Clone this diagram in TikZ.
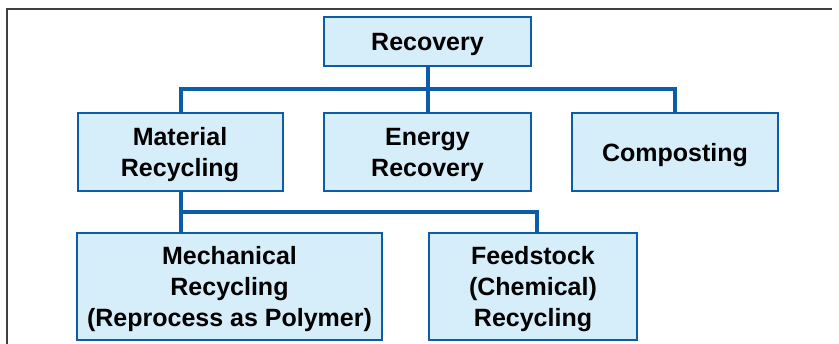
\documentclass[tikz,border=0pt]{standalone}
\usepackage{fontspec}
\setmainfont{Liberation Sans}
\begin{document}
\begin{tikzpicture}[x=1pt,y=-1pt,
  box/.style={draw=linkblue, fill=boxfill, line width=2pt, inner sep=0pt,
    align=center, text depth=0pt, font=\bfseries\fontsize{25}{31}\selectfont},
  conn/.style={draw=linkblue, line width=4pt},
  frame/.style={draw=black!75, line width=2pt}]
\definecolor{linkblue}{RGB}{12,92,170}
\definecolor{boxfill}{RGB}{214,238,250}
\useasboundingbox (0,0) rectangle (839,344);
% corner frame: left and top rules
\draw[frame] (7,350) -- (7,9) -- (832,9);
% boxes
\node[box, minimum width=207pt, minimum height=49pt] (rec) at (427.5,41.5) {Recovery};
\node[box, minimum width=205pt, minimum height=78pt] (mat) at (180,152) {Material\\Recycling};
\node[box, minimum width=207pt, minimum height=78pt] (en) at (427.5,152) {Energy\\Recovery};
\node[box, minimum width=206pt, minimum height=78pt] (comp) at (675,152) {Composting};
\node[box, minimum width=305pt, minimum height=107pt] (mech) at (229.5,286.5) {Mechanical\\Recycling\\(Reprocess as Polymer)};
\node[box, minimum width=208pt, minimum height=107pt] (fs) at (533,286.5) {Feedstock\\(Chemical)\\Recycling};
% upper connectors
\coordinate (busA) at (427.5,89);
\draw[conn] (rec.south) -- (en.north);
\draw[conn] ([xshift=1pt]mat.north) |- (busA) -| (comp.north);
% lower connectors
\coordinate (busB) at (537,212);
\draw[conn] ([xshift=1pt]mat.south) -- ([xshift=1pt]mat.south |- mech.north);
\draw[conn] ([xshift=1pt]mat.south) |- (busB) -- (busB |- fs.north);
\end{tikzpicture}
\end{document}
